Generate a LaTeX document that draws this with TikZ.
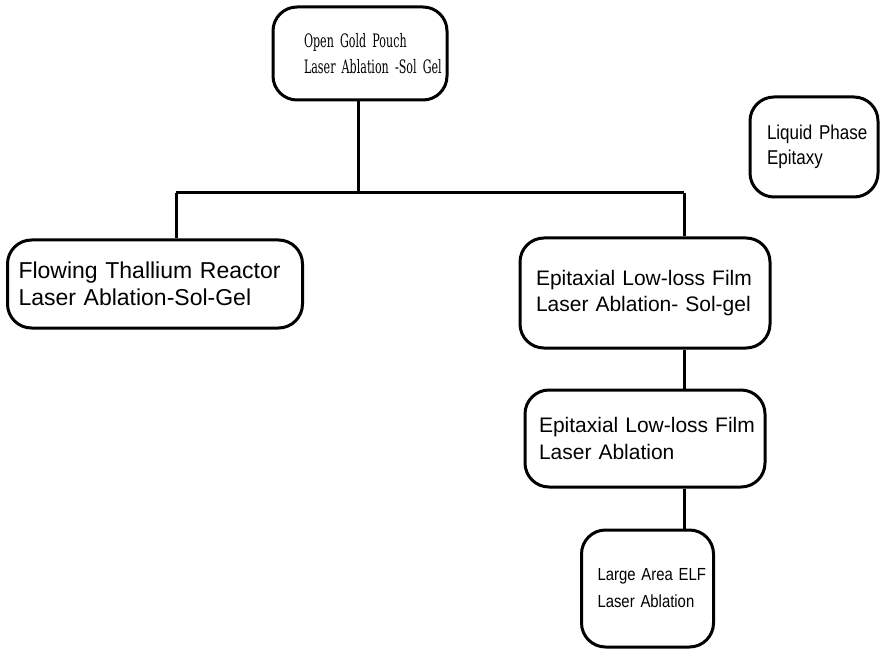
\documentclass[tikz,border=0pt]{standalone}
\usepackage{fontspec}
\setmainfont{Liberation Sans}
\newfontfamily\narrowfont[FakeStretch=0.85]{Liberation Sans}
\newfontfamily\topfont[FakeStretch=0.6]{DejaVu Serif}
\begin{document}
\begin{tikzpicture}[x=1pt,y=-1pt,
  box/.style={draw, line width=3pt, rounded corners=24pt, align=left, inner ysep=0pt},
  link/.style={line width=3pt}]
\useasboundingbox (0,0) rectangle (880,652);
\node[box, minimum height=93pt, inner xsep=31pt, text width=112pt,
  font=\topfont\fontsize{18.5}{26}\selectfont] (top) at (360,53.5)
  {\mbox{Open Gold Pouch}\\\mbox{Laser Ablation -Sol Gel}};
\node[box, minimum height=100pt, inner xsep=17pt, text width=94pt,
  font=\narrowfont\fontsize{20}{25}\selectfont] (lpe) at (814,147)
  {\mbox{Liquid Phase}\\\mbox{Epitaxy}};
\node[box, minimum height=88pt, inner xsep=11pt, text width=273pt,
  font=\fontsize{23}{27}\selectfont] (flow) at (155,284)
  {\mbox{Flowing Thallium Reactor}\\\mbox{Laser Ablation-Sol-Gel}};
\node[box, minimum height=110pt, inner xsep=16pt, text width=218pt,
  font=\fontsize{21}{26}\selectfont] (epi1) at (645,293)
  {\mbox{Epitaxial Low-loss Film}\\\mbox{Laser Ablation- Sol-gel}};
\node[box, minimum height=97pt, inner xsep=14pt, text width=212pt,
  font=\fontsize{21}{27}\selectfont] (epi2) at (645,438.5)
  {\mbox{Epitaxial Low-loss Film}\\\mbox{Laser Ablation}};
\node[box, minimum height=117pt, inner xsep=16pt, text width=100pt,
  font=\narrowfont\fontsize{17.5}{27}\selectfont] (lae) at (647.5,588.5)
  {\mbox{Large Area ELF}\\\mbox{Laser Ablation}};
\coordinate (j) at (358,193);
\coordinate (jl) at (176,193);
\coordinate (jr) at (684,193);
\draw[link] (top.south -| j) -- (j);
\draw[link] (jl) -- (jr);
\draw[link] (jl) -- (jl |- flow.north);
\draw[link] (jr) -- (jr |- epi1.north);
\draw[link] (epi1.south -| jr) -- (epi2.north -| jr);
\draw[link] (epi2.south -| jr) -- (lae.north -| jr);
\end{tikzpicture}
\end{document}
